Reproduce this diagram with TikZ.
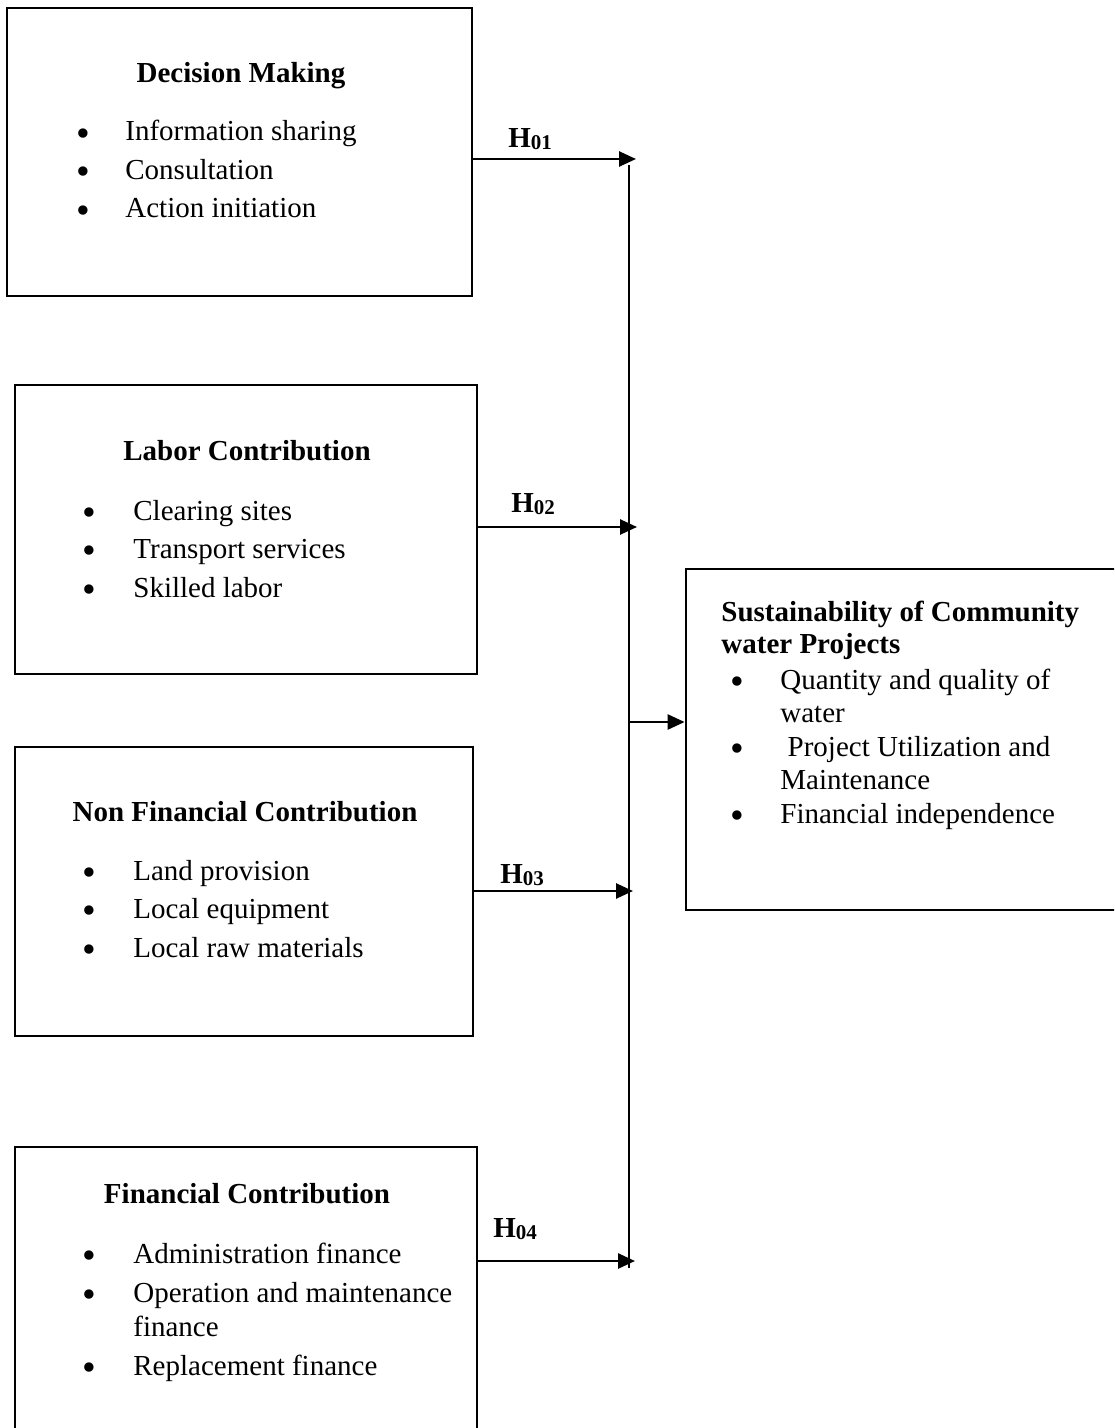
\documentclass[tikz,border=0pt]{standalone}
\usepackage{fontspec}
\usepackage{graphicx}
\setmainfont{Liberation Serif}
\usetikzlibrary{arrows.meta}

\newcommand{\bul}[1][25.5pt]{\makebox[#1][l]{\raisebox{-2.6pt}{\scalebox{1.35}{\textbullet}}}}
\newcommand{\hyp}[1]{\textbf{H\raisebox{-0.15ex}{\fontsize{10.5pt}{12pt}\selectfont #1}}}

\begin{document}
\begin{tikzpicture}[x=0.5pt,y=-0.5pt,
    every node/.style={font=\fontsize{14.5pt}{19.25pt}\selectfont},
    box/.style={draw=black,line width=1.4pt,inner sep=0pt},
    ttl/.style={anchor=base,font=\fontsize{14.5pt}{19.25pt}\selectfont\bfseries},
    itm/.style={anchor=base west,align=left,inner sep=0pt},
    hlab/.style={anchor=base west,inner sep=0pt},
    link/.style={line width=1.3pt,-{Triangle[length=8.5pt,width=7.5pt]}}]

	\useasboundingbox (0,0) rectangle (1114,1428);
	\clip (0,0) rectangle (1114,1428);

	% boxes
	\node[box,minimum width=232.5pt,minimum height=144pt]   (dm)   at (239.5,152)   {};
	\node[box,minimum width=231pt,minimum height=144.5pt]   (lc)   at (246,529.5)   {};
	\node[box,minimum width=229pt,minimum height=144.5pt]   (nfc)  at (244,891.5)   {};
	\node[box,minimum width=231pt,minimum height=156.5pt]   (fc)   at (246,1303.5)  {};
	\node[box,minimum width=222pt,minimum height=170.5pt]   (scwp) at (908,739.5)   {};

	% box texts (lists are placed at the baseline of their last line)
	\node[ttl] (dmT)  at (241,83)   {Decision Making};
	\node[itm] (dmL)  at (76,218)   {\bul[24.5pt]Information sharing\\ \bul[24.5pt]Consultation\\ \bul[24.5pt]Action initiation};

	\node[ttl] (lcT)  at (247,460)  {Labor Contribution};
	\node[itm] (lcL)  at (82,597)   {\bul Clearing sites\\ \bul Transport services\\ \bul Skilled labor};

	\node[ttl] (nfcT) at (245,821)  {Non Financial Contribution};
	\node[itm] (nfcL) at (82,957)   {\bul Land provision\\ \bul Local equipment\\ \bul Local raw materials};

	\node[ttl] (fcT)  at (247,1203) {Financial Contribution};
	\node[itm] (fcL)  at (82,1375)  {\bul Administration finance\\ \bul Operation and maintenance\\[-2pt] \makebox[25.5pt]{}finance\\ \bul Replacement finance};

	\node[itm,font=\fontsize{14.5pt}{16pt}\selectfont\bfseries] (scwpT) at (721,653) {Sustainability of Community\\water Projects};
	\node[itm,font=\fontsize{14.5pt}{16.75pt}\selectfont] (scwpL) at (730,823) {\bul[25pt]Quantity and quality of\\ \makebox[25pt]{}water\\ \bul[25pt]\ Project Utilization and\\ \makebox[25pt]{}Maintenance\\ \bul[25pt]Financial independence};

	% hypothesis labels
	\node[hlab] (h01) at (508,148)  {\hyp{01}};
	\node[hlab] (h02) at (511,512)  {\hyp{02}};
	\node[hlab] (h03) at (500,883)  {\hyp{03}};
	\node[hlab] (h04) at (493,1237) {\hyp{04}};

	% connectors
	\coordinate (busTop) at (629,165);
	\coordinate (busBot) at (629,1268);
	\coordinate (j1) at (636,159);
	\coordinate (j2) at (637,527);
	\coordinate (j3) at (633,891);
	\coordinate (j4) at (635,1261);
	\coordinate (jOut) at (629,722);

	\draw[line width=1.3pt] (busTop) -- (busBot);
	\draw[link] (dm.east |- j1) -- (j1);
	\draw[link] (lc.east |- j2) -- (j2);
	\draw[link] (nfc.east |- j3) -- (j3);
	\draw[link] (fc.east |- j4) -- (j4);
	\draw[link] (jOut) -- (scwp.west |- jOut);

\end{tikzpicture}
\end{document}
